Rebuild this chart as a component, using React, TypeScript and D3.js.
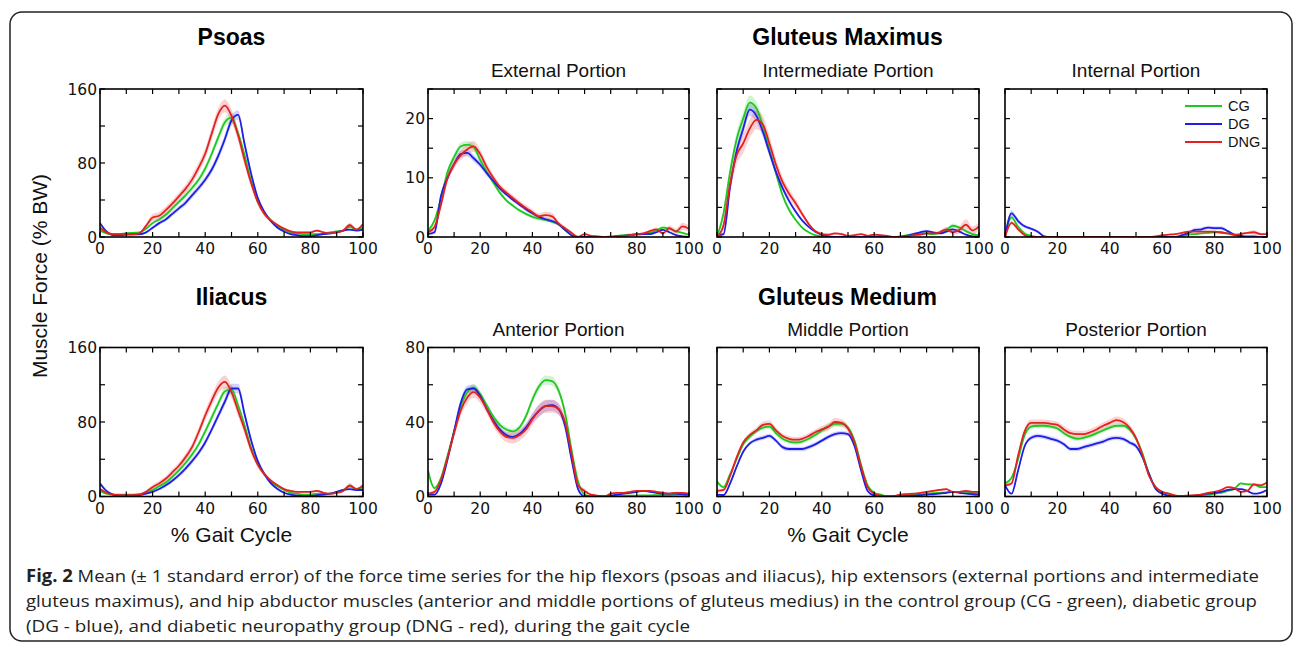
import React from 'react';
import * as d3 from 'd3';

// % gait cycle sample points
const gait = [0, 2.5, 5, 7.5, 10, 12.5, 15, 17.5, 20, 22.5,
  25, 27.5, 30, 32.5, 35, 37.5, 40, 42.5, 45, 47.5,
  50, 52.5, 55, 57.5, 60, 62.5, 65, 67.5, 70, 72.5,
  75, 77.5, 80, 82.5, 85, 87.5, 90, 92.5, 95, 97.5, 100];

// Psoas
const psoasCG = [7, 4, 3, 3, 4, 4.5, 5, 9, 15, 19, 24, 31, 38, 45, 53, 62, 74, 90, 108, 124,
  129, 112, 88, 60, 38, 26, 18, 12, 8, 5, 4, 3, 3, 3, 4, 5, 6, 7, 11, 8, 10];
const psoasDG = [15, 6, 2, 2, 2.5, 3, 3, 5, 10, 15, 19, 25, 31, 37, 45, 53, 62, 73, 88, 106,
  126, 132, 100, 68, 42, 27, 17, 10, 6, 3, 2, 1, 1, 2, 3, 4, 5, 7, 8, 7, 8];
const psoasDNG = [10, 5, 3, 3, 3.5, 3, 4, 12, 21, 23, 29, 36, 44, 52, 62, 75, 90, 112, 133, 142,
  131, 110, 83, 58, 38, 25, 18, 13, 9, 6, 5, 5, 5, 7, 5, 4, 5, 7, 13, 8, 14];
const psoasCGse = [1.5, 1, 0.8, 0.8, 0.8, 0.8, 1, 1.2, 1.5, 2, 2, 2.5, 2.5, 3, 3, 3.5, 4, 4, 4.5, 5,
  5, 4.5, 4, 3, 2.5, 2, 1.5, 1, 1, 0.8, 0.8, 0.8, 0.8, 0.8, 0.8, 0.8, 1, 1, 1.5, 1.5, 1.5];
const psoasDGse = [2, 1, 0.8, 0.8, 0.8, 0.8, 0.8, 1, 1.5, 2, 2, 2.5, 2.5, 3, 3, 3.5, 3.5, 4, 4.5, 5,
  5.5, 5, 4.5, 4, 3, 2, 1.5, 1, 0.8, 0.8, 0.8, 0.8, 0.8, 0.8, 0.8, 0.8, 0.8, 1, 1, 1, 1];
const psoasDNGse = [1.5, 1, 0.8, 0.8, 0.8, 0.8, 1, 2.5, 4, 4, 4, 4, 4, 4.5, 5, 5.5, 6, 6.5, 7, 7,
  7, 6.5, 6, 5, 4, 3, 2, 1.5, 1, 1, 0.8, 0.8, 1, 1, 0.8, 0.8, 1, 1.2, 2.5, 1.5, 2];

// Iliacus
const iliacusCG = [6, 3, 2, 2, 2, 2, 2.5, 4, 7, 11, 15, 21, 28, 36, 45, 56, 70, 85, 100, 113,
  115, 98, 76, 52, 35, 24, 16, 11, 7, 4, 3, 2, 2, 3, 3, 3, 5, 7, 11, 8, 10];
const iliacusDG = [14, 6, 2, 1, 1, 1, 1.5, 3, 5, 8, 12, 17, 23, 30, 38, 47, 58, 72, 87, 102,
  116, 116, 88, 60, 38, 24, 14, 8, 4, 2, 1, 0.5, 0.5, 1.5, 2, 3, 5, 7, 8, 7, 7];
const iliacusDNG = [8, 4, 2, 1.5, 1.5, 1.5, 2, 5, 10, 14, 19, 26, 33, 42, 53, 69, 87, 103, 117, 123,
  112, 92, 72, 50, 34, 24, 17, 12, 8, 6, 5, 5, 5, 6, 4, 3, 4, 6, 12, 8, 12];
const iliacusCGse = [1.5, 1, 0.8, 0.8, 0.8, 0.8, 0.8, 1, 1.5, 1.5, 2, 2, 2.5, 2.5, 3, 3, 3.5, 4, 4, 4.5,
  4.5, 4, 3.5, 3, 2.5, 2, 1.5, 1, 0.8, 0.8, 0.8, 0.8, 0.8, 0.8, 0.8, 0.8, 1, 1, 1.5, 1.5, 1.5];
const iliacusDGse = [2, 1, 0.8, 0.8, 0.8, 0.8, 0.8, 0.8, 1, 1.5, 2, 2, 2.5, 2.5, 3, 3, 3.5, 3.5, 4, 4.5,
  5, 5, 4.5, 3.5, 2.5, 2, 1.5, 1, 0.8, 0.8, 0.8, 0.8, 0.8, 0.8, 0.8, 0.8, 0.8, 1, 1, 1, 1];
const iliacusDNGse = [1.5, 1, 0.8, 0.8, 0.8, 0.8, 1, 1.5, 2.5, 3, 3, 3.5, 3.5, 4, 4.5, 5, 5.5, 6, 6.5, 7,
  6.5, 6, 5.5, 4.5, 3.5, 2.5, 2, 1.5, 1, 1, 0.8, 0.8, 1, 1, 0.8, 0.8, 1, 1.2, 2.5, 1.5, 2];

// Gluteus maximus - external portion
const extCG = [1, 2.8, 6.5, 11, 13.5, 15.3, 15.6, 15.2, 13, 11, 9.2, 7.5, 6.2, 5.3, 4.5, 3.9, 3.4, 3.1, 2.9, 2.6,
  2.1, 1.2, 0.3, 0, 0, 0, 0, 0, 0.1, 0.2, 0.3, 0.4, 0.4, 0.5, 0.7, 1.1, 1.6, 1.4, 1, 0.7, 0.4];
const extDG = [0.5, 0.8, 7, 10, 12.3, 14, 14.2, 13.3, 12.2, 10.8, 9.5, 8.2, 7.2, 6.3, 5.5, 4.7, 4, 3.4, 3, 2.7,
  2.2, 1.2, 0.3, 0, 0, 0, 0, 0, 0, 0.1, 0.2, 0.3, 0.5, 0.5, 0.5, 0.8, 1.2, 0.8, 0.3, 0.1, 0];
const extDNG = [0.8, 1.7, 5.5, 10, 12.3, 13.8, 14.8, 15.3, 14, 11.8, 10, 8.5, 7.5, 6.6, 5.7, 4.9, 4.2, 3.5, 3.7, 3.5,
  2.3, 1.5, 0.7, 0, 0.5, 0.2, 0.1, 0, 0, 0.1, 0.2, 0.3, 0.5, 0.6, 1, 1.3, 0.6, 1.5, 0.9, 1.8, 1.4];
const extCGse = [0.3, 0.4, 0.5, 0.6, 0.6, 0.6, 0.6, 0.6, 0.5, 0.5, 0.4, 0.4, 0.3, 0.3, 0.3, 0.3, 0.3, 0.3, 0.3, 0.3,
  0.2, 0.2, 0.1, 0.1, 0.1, 0.1, 0.1, 0.1, 0.1, 0.1, 0.1, 0.1, 0.1, 0.1, 0.15, 0.2, 0.25, 0.2, 0.15, 0.1, 0.1];
const extDGse = [0.3, 0.3, 0.5, 0.6, 0.6, 0.6, 0.6, 0.6, 0.5, 0.5, 0.4, 0.4, 0.3, 0.3, 0.3, 0.3, 0.3, 0.3, 0.3, 0.3,
  0.2, 0.2, 0.1, 0.1, 0.1, 0.1, 0.1, 0.1, 0.1, 0.1, 0.1, 0.1, 0.1, 0.1, 0.1, 0.1, 0.15, 0.1, 0.1, 0.1, 0.1];
const extDNGse = [0.3, 0.5, 0.6, 0.7, 0.8, 0.8, 0.9, 0.9, 0.8, 0.7, 0.6, 0.5, 0.5, 0.5, 0.5, 0.5, 0.5, 0.5, 0.6, 0.6,
  0.4, 0.3, 0.2, 0.1, 0.2, 0.1, 0.1, 0.1, 0.1, 0.1, 0.1, 0.1, 0.15, 0.2, 0.25, 0.3, 0.3, 0.5, 0.5, 0.6, 0.5];

// Gluteus maximus - intermediate portion
const intmCG = [0, 4, 11, 16.5, 20, 22.7, 21.8, 18.8, 14.8, 10.8, 7.1, 4.6, 2.9, 1.6, 0.8, 0.3, 0.1, 0, 0, 0,
  0, 0, 0, 0, 0, 0, 0, 0, 0.1, 0.3, 0.5, 0.6, 0.6, 0.5, 0.7, 1.2, 1.9, 1.6, 1, 0.5, 0.3];
const intmDG = [0.3, 0.5, 8.5, 14.5, 18.3, 21.5, 20.5, 17.8, 14.3, 11, 8.3, 6.1, 4.3, 2.8, 1.7, 0.9, 0.4, 0.1, 0, 0,
  0, 0, 0, 0, 0, 0, 0, 0, 0, 0.2, 0.5, 0.8, 1, 0.8, 0.6, 0.9, 1.3, 0.9, 0.4, 0.1, 0];
const intmDNG = [0, 2, 9, 13.8, 15.8, 18.3, 19.8, 19, 15.8, 12.2, 9.3, 7.3, 5.7, 3.9, 2.2, 1, 0.5, 0.4, 0.6, 0.5,
  0.2, 0.3, 0.5, 0.2, 0.4, 0.3, 0.2, 0, 0, 0.1, 0.3, 0.4, 0.6, 0.6, 0.8, 1.3, 0.8, 1.2, 2.1, 1.1, 1.8];
const intmCGse = [0.2, 0.8, 1, 1.2, 1.2, 1.2, 1.1, 1, 0.8, 0.6, 0.5, 0.4, 0.3, 0.2, 0.1, 0.1, 0.1, 0.1, 0.1, 0.1,
  0.1, 0.1, 0.1, 0.1, 0.1, 0.1, 0.1, 0.1, 0.1, 0.1, 0.1, 0.1, 0.1, 0.1, 0.2, 0.3, 0.4, 0.3, 0.2, 0.1, 0.1];
const intmDGse = [0.2, 0.3, 0.8, 0.9, 1, 1, 1, 0.9, 0.7, 0.6, 0.5, 0.4, 0.3, 0.2, 0.1, 0.1, 0.1, 0.1, 0.1, 0.1,
  0.1, 0.1, 0.1, 0.1, 0.1, 0.1, 0.1, 0.1, 0.1, 0.1, 0.1, 0.15, 0.2, 0.15, 0.1, 0.15, 0.2, 0.15, 0.1, 0.1, 0.1];
const intmDNGse = [0.2, 0.8, 1.5, 1.5, 1.6, 1.6, 1.6, 1.5, 1.3, 1.1, 0.9, 0.8, 0.7, 0.5, 0.3, 0.2, 0.2, 0.2, 0.2, 0.2,
  0.1, 0.1, 0.1, 0.1, 0.1, 0.1, 0.1, 0.1, 0.1, 0.1, 0.1, 0.1, 0.15, 0.2, 0.3, 0.4, 0.4, 0.6, 0.9, 0.7, 0.7];

// Gluteus maximus - internal portion
const inteCG = [0, 3.3, 1.7, 0.6, 0.2, 0, 0, 0, 0, 0, 0, 0, 0, 0, 0, 0, 0, 0, 0, 0,
  0, 0, 0, 0, 0, 0, 0, 0.1, 0.4, 0.5, 0.6, 0.7, 0.8, 0.7, 0.6, 0.3, 0.1, 0, 0, 0, 0];
const inteDG = [0, 4, 2.7, 1.8, 1.4, 0.9, 0.1, 0, 0, 0, 0, 0, 0, 0, 0, 0, 0, 0, 0, 0,
  0, 0, 0, 0, 0, 0, 0, 0.3, 0.7, 1.2, 1.3, 1.6, 1.5, 1.5, 1, 0.4, 0.2, 0.1, 0.1, 0, 0];
const inteDNG = [0, 2.4, 1.3, 0.3, 0, 0, 0, 0, 0, 0, 0, 0, 0, 0, 0, 0, 0, 0, 0, 0,
  0, 0, 0, 0.1, 0.3, 0.4, 0.5, 0.7, 0.9, 0.9, 0.9, 0.9, 0.9, 0.8, 0.6, 0.4, 0.5, 0.7, 0.8, 0.5, 0.5];
const inteCGse = [0, 0.3, 0.25, 0.1, 0.05, 0, 0, 0, 0, 0, 0, 0, 0, 0, 0, 0, 0, 0, 0, 0,
  0, 0, 0, 0, 0, 0, 0, 0.05, 0.1, 0.1, 0.1, 0.1, 0.1, 0.1, 0.1, 0.1, 0.05, 0, 0, 0, 0];
const inteDGse = [0, 0.5, 0.4, 0.3, 0.25, 0.2, 0.05, 0, 0, 0, 0, 0, 0, 0, 0, 0, 0, 0, 0, 0,
  0, 0, 0, 0, 0, 0, 0, 0.1, 0.2, 0.3, 0.3, 0.3, 0.3, 0.3, 0.2, 0.1, 0.05, 0.05, 0.05, 0, 0];
const inteDNGse = [0, 0.3, 0.25, 0.1, 0, 0, 0, 0, 0, 0, 0, 0, 0, 0, 0, 0, 0, 0, 0, 0,
  0, 0, 0, 0.05, 0.1, 0.1, 0.1, 0.1, 0.15, 0.15, 0.15, 0.15, 0.15, 0.15, 0.1, 0.1, 0.15, 0.2, 0.4, 0.2, 0.2];

// Gluteus medius - anterior portion
const antCG = [14, 4.5, 10, 22, 35, 48, 56, 58.5, 55, 49, 43, 38.5, 36, 35, 37, 43, 52, 59, 62.5, 62,
  57, 45, 25, 8, 1, 0, 0, 0, 0.3, 0.4, 0.4, 0.5, 0.5, 0.6, 0.6, 0.7, 0.8, 0.8, 0.9, 1, 1.2];
const antDG = [1, 1, 7, 20, 35, 50, 57.5, 58, 54, 47, 41, 36, 33, 32, 33.5, 37, 42, 46, 48.5, 49,
  47, 38, 20, 4, 0, 0, 0, 0, 0.5, 1, 1.5, 2, 2.5, 3, 2.5, 2, 1.5, 1.5, 1.5, 1.2, 1];
const antDNG = [1.5, 2.5, 9, 21, 34, 46, 53, 56, 53, 47, 40, 35, 32, 31.5, 33, 36, 41.5, 46, 48.5, 48.5,
  47, 40, 23, 6, 3, 1, 0.5, 0, 1.5, 2, 2, 2.5, 3, 3, 3, 2.5, 2, 1.5, 2, 2, 1.5];
const antCGse = [1, 1, 1, 1.2, 1.5, 1.8, 2, 2, 1.8, 1.5, 1.5, 1.5, 1.5, 1.5, 1.5, 1.8, 2, 2.2, 2.5, 2.5,
  2.2, 2, 1.5, 1, 0.5, 0.3, 0.3, 0.3, 0.3, 0.3, 0.3, 0.3, 0.3, 0.3, 0.3, 0.3, 0.3, 0.3, 0.3, 0.3, 0.3];
const antDGse = [0.5, 0.5, 1, 1.5, 1.8, 2, 2, 2, 1.8, 1.5, 1.5, 1.5, 1.5, 1.5, 1.8, 2, 2.5, 3, 3, 3,
  2.8, 2.5, 1.8, 1, 0.5, 0.3, 0.3, 0.3, 0.3, 0.3, 0.3, 0.3, 0.4, 0.4, 0.4, 0.3, 0.3, 0.3, 0.3, 0.3, 0.3];
const antDNGse = [0.8, 1, 1.5, 2, 2.5, 3, 3, 3, 2.8, 2.5, 2.5, 2.5, 2.8, 3, 3, 3, 3.2, 3.5, 3.5, 3.5,
  3.2, 3, 2.5, 1.5, 1.2, 0.5, 0.3, 0.3, 0.5, 0.5, 0.5, 0.5, 0.5, 0.5, 0.5, 0.5, 0.5, 0.5, 0.5, 0.5, 0.5];

// Gluteus medius - middle portion
const midCG = [8, 5, 12, 20, 28, 32, 35, 37, 37.5, 34, 31, 29.5, 29, 29.5, 31, 33, 35.5, 37.5, 39, 39,
  37, 30, 17, 6, 2, 1, 0, 0, 0.3, 0.5, 0.8, 1.2, 1.5, 1.8, 2, 2.2, 2.5, 2.5, 2.5, 2, 1.5];
const midDG = [1, 0.8, 7, 16, 24, 28.5, 30.5, 31.5, 32.5, 30, 26.5, 25.5, 25.5, 25.5, 26.5, 28, 30, 32, 33.5, 34,
  33.5, 27, 14, 3, 0.5, 0, 0, 0, 0, 0.2, 0.5, 0.7, 1, 1.2, 1.5, 2, 2.5, 2, 1.5, 1.2, 1];
const midDNG = [3, 3.5, 11, 21, 29, 33, 35.5, 38.5, 39, 35.5, 32.5, 31, 30.5, 31, 32.5, 34.5, 36, 37.5, 40, 39.5,
  36.5, 29, 16, 5, 1.5, 0.5, 0, 0.3, 1, 1.3, 1.5, 2, 2.5, 3, 3.5, 4, 2.5, 2.5, 3, 2.5, 2.5];
const midCGse = [1, 0.8, 1, 1, 1.2, 1.2, 1.2, 1.2, 1.2, 1.2, 1.2, 1.2, 1.2, 1.2, 1.2, 1.2, 1.3, 1.5, 1.5, 1.5,
  1.3, 1.2, 1, 0.6, 0.3, 0.2, 0.2, 0.2, 0.2, 0.2, 0.2, 0.2, 0.2, 0.3, 0.3, 0.3, 0.3, 0.3, 0.3, 0.3, 0.3];
const midDGse = [0.5, 0.5, 0.8, 1, 1, 1, 1.2, 1.2, 1.2, 1.2, 1.2, 1.2, 1.2, 1.2, 1.2, 1.2, 1.2, 1.2, 1.2, 1.2,
  1.2, 1, 0.8, 0.5, 0.2, 0.2, 0.2, 0.2, 0.2, 0.2, 0.2, 0.2, 0.2, 0.2, 0.2, 0.2, 0.2, 0.2, 0.2, 0.2, 0.2];
const midDNGse = [0.8, 0.8, 1, 1.2, 1.3, 1.4, 1.5, 1.8, 1.8, 1.6, 1.5, 1.5, 1.5, 1.5, 1.5, 1.6, 1.8, 2, 2.2, 2,
  1.8, 1.5, 1.2, 0.6, 0.3, 0.2, 0.2, 0.2, 0.3, 0.3, 0.3, 0.3, 0.3, 0.4, 0.5, 0.5, 0.4, 0.5, 0.6, 0.5, 0.5];

// Gluteus medius - posterior portion
const postCG = [7, 10, 20, 33, 37.5, 38, 38, 37.5, 36.5, 34, 32, 31, 31.5, 32.5, 34, 35.5, 37, 38, 38, 36,
  31, 23, 12, 5, 2.5, 1.5, 0.5, 0, 0, 0.3, 0.8, 1, 1.5, 2, 3, 4, 7, 6.5, 6.5, 5, 5];
const postDG = [6, 1.5, 14, 27, 31.5, 32.5, 32, 31, 30, 28, 25.5, 25.5, 26.5, 27.5, 28.5, 29.5, 31, 31.5, 31, 29,
  27, 21, 12, 4, 1.5, 0.5, 0, 0, 0, 0.5, 1, 1.5, 2, 2.5, 3.5, 4, 4, 3, 1.5, 2, 3.5];
const postDNG = [6, 7, 22, 35, 39.5, 39.5, 39.5, 39, 38.5, 36, 34, 33.5, 33.5, 34.5, 36, 38, 39.5, 41, 40, 37,
  31.5, 22, 11, 5, 2.5, 1.5, 0.5, 0.3, 0.5, 0.7, 1, 2, 2.5, 3.5, 5, 4.5, 2.5, 3, 6.5, 6, 7.5];
const postCGse = [1, 1, 1, 1.2, 1.2, 1.2, 1.2, 1.2, 1.2, 1.2, 1.2, 1.2, 1.2, 1.2, 1.2, 1.2, 1.2, 1.2, 1.2, 1.2,
  1.2, 1, 0.8, 0.5, 0.3, 0.2, 0.2, 0.2, 0.2, 0.2, 0.2, 0.2, 0.3, 0.3, 0.4, 0.4, 0.5, 0.5, 0.5, 0.5, 0.5];
const postDGse = [0.8, 0.5, 1, 1.2, 1.2, 1.2, 1.2, 1.2, 1.2, 1.2, 1.2, 1.2, 1.2, 1.2, 1.2, 1.2, 1.2, 1.2, 1.2, 1.2,
  1.2, 1, 0.8, 0.5, 0.3, 0.2, 0.2, 0.2, 0.2, 0.2, 0.2, 0.2, 0.3, 0.3, 0.3, 0.4, 0.4, 0.3, 0.3, 0.3, 0.3];
const postDNGse = [1, 1, 1.5, 1.8, 1.8, 1.8, 1.8, 1.8, 1.8, 1.8, 1.8, 1.8, 1.8, 1.8, 1.8, 1.8, 2, 2, 2, 1.8,
  1.5, 1.2, 0.8, 0.5, 0.3, 0.2, 0.2, 0.2, 0.3, 0.3, 0.3, 0.4, 0.4, 0.5, 0.5, 0.5, 0.5, 0.5, 0.8, 0.8, 0.8];

const groups = ['CG', 'DG', 'DNG'];
const groupColors = ['#1ec81e', '#1e1ee6', '#e42020'];

const xTickLabels = [0, 20, 40, 60, 80, 100];
const hipFlexorTicks = [0, 80, 160];
const gmaxTicks = [0, 10, 20];
const gmedTicks = [0, 40, 80];

const captionLines = [
  ' Mean (\u00b1 1 standard error) of the force time series for the hip flexors (psoas and iliacus), hip extensors (external portions and intermediate',
  'gluteus maximus), and hip abductor muscles (anterior and middle portions of gluteus medius) in the control group (CG - green), diabetic group',
  '(DG - blue), and diabetic neuropathy group (DNG - red), during the gait cycle',
];

// layout
const cols = [[100, 363], [428, 689], [717, 979], [1005, 1267]];
const rows = [[89, 237], [347.5, 496.5]];

const panels = [
  { id: 'psoas', c: 0, r: 0, ymax: 160, step: 40, labels: hipFlexorTicks, title: 'Psoas', bold: true,
    s: [[psoasCG, psoasCGse], [psoasDG, psoasDGse], [psoasDNG, psoasDNGse]] },
  { id: 'ext', c: 1, r: 0, ymax: 25, step: 5, labels: gmaxTicks, title: 'External Portion',
    s: [[extCG, extCGse], [extDG, extDGse], [extDNG, extDNGse]] },
  { id: 'intm', c: 2, r: 0, ymax: 25, step: 5, labels: null, title: 'Intermediate Portion',
    s: [[intmCG, intmCGse], [intmDG, intmDGse], [intmDNG, intmDNGse]] },
  { id: 'inte', c: 3, r: 0, ymax: 25, step: 5, labels: null, title: 'Internal Portion', legend: true,
    s: [[inteCG, inteCGse], [inteDG, inteDGse], [inteDNG, inteDNGse]] },
  { id: 'iliacus', c: 0, r: 1, ymax: 160, step: 40, labels: hipFlexorTicks, title: 'Iliacus', bold: true,
    s: [[iliacusCG, iliacusCGse], [iliacusDG, iliacusDGse], [iliacusDNG, iliacusDNGse]] },
  { id: 'ant', c: 1, r: 1, ymax: 80, step: 20, labels: gmedTicks, title: 'Anterior Portion',
    s: [[antCG, antCGse], [antDG, antDGse], [antDNG, antDNGse]] },
  { id: 'mid', c: 2, r: 1, ymax: 80, step: 20, labels: null, title: 'Middle Portion',
    s: [[midCG, midCGse], [midDG, midDGse], [midDNG, midDNGse]] },
  { id: 'post', c: 3, r: 1, ymax: 80, step: 20, labels: null, title: 'Posterior Portion',
    s: [[postCG, postCGse], [postDG, postDGse], [postDNG, postDNGse]] },
];

const tickFont = 'DejaVu Sans';
const labelFont = 'Liberation Sans, Arial, sans-serif';

function Panel({ p }: { p: any }) {
  const [x0, x1] = cols[p.c];
  const [y0, y1] = rows[p.r];
  const x = d3.scaleLinear().domain([0, 100]).range([x0, x1]);
  const y = d3.scaleLinear().domain([0, p.ymax]).range([y1, y0]);
  const line = d3.line<number>().x((_, i) => x(gait[i])).y(d => y(d)).curve(d3.curveMonotoneX);
  const band = (m: number[], se: number[]) =>
    d3.area<number>()
      .x((_, i) => x(gait[i]))
      .y0((d, i) => y(Math.max(0, d - se[i])))
      .y1((d, i) => y(d + se[i]))
      .curve(d3.curveMonotoneX)(m);
  const xt = d3.range(0, 101, 10);
  const yt = d3.range(0, p.ymax + 0.001, p.step);
  const tl = 5;
  const clip = `clip-${p.id}`;
  return (
    <g>
      <defs>
        <clipPath id={clip}>
          <rect x={x0} y={y0} width={x1 - x0} height={y1 - y0} />
        </clipPath>
      </defs>
      <g clipPath={`url(#${clip})`}>
        {p.s.map(([m, se]: number[][], k: number) => (
          <path key={'b' + k} d={band(m, se) || ''} fill={groupColors[k]} fillOpacity={0.2} stroke="none" />
        ))}
        {p.s.map(([m]: number[][], k: number) => (
          <path key={'l' + k} d={line(m) || ''} fill="none" stroke={groupColors[k]} strokeWidth={1.8} />
        ))}
      </g>
      {/* inward ticks on all sides */}
      {xt.map(t => (
        <g key={'xt' + t}>
          <line x1={x(t)} x2={x(t)} y1={y1} y2={y1 - tl} stroke="#000" strokeWidth={1.2} />
          <line x1={x(t)} x2={x(t)} y1={y0} y2={y0 + tl} stroke="#000" strokeWidth={1.2} />
        </g>
      ))}
      {yt.map(t => (
        <g key={'yt' + t}>
          <line x1={x0} x2={x0 + tl} y1={y(t)} y2={y(t)} stroke="#000" strokeWidth={1.2} />
          <line x1={x1} x2={x1 - tl} y1={y(t)} y2={y(t)} stroke="#000" strokeWidth={1.2} />
        </g>
      ))}
      <rect x={x0} y={y0} width={x1 - x0} height={y1 - y0} fill="none" stroke="#000" strokeWidth={1.6} />
      {xTickLabels.map(t => (
        <text key={'xl' + t} x={x(t)} y={y1 + 17} textAnchor="middle" fontFamily={tickFont} fontSize={15.5} fill="#111">{t}</text>
      ))}
      {p.labels && p.labels.map((t: number) => (
        <text key={'yl' + t} x={x0 - 3} y={y(t)} dy="0.36em" textAnchor="end" fontFamily={tickFont} fontSize={15.5} fill="#111">{t}</text>
      ))}
      {!p.bold && (
        <text x={(x0 + x1) / 2} y={y0 - 12} textAnchor="middle" fontFamily={labelFont} fontSize={19} fill="#111">{p.title}</text>
      )}
      {p.legend && groups.map((g, k) => (
        <g key={g}>
          <line x1={x1 - 82} x2={x1 - 45} y1={y0 + 17 + k * 18} y2={y0 + 17 + k * 18} stroke={groupColors[k]} strokeWidth={2} />
          <text x={x1 - 39} y={y0 + 17 + k * 18} dy="0.36em" fontFamily={labelFont} fontSize={14.5} fill="#111">{g}</text>
        </g>
      ))}
    </g>
  );
}

export default function App() {
  const c0 = (cols[0][0] + cols[0][1]) / 2;
  const cG = (cols[1][0] + cols[3][1]) / 2;
  return (
    <svg width={1295} height={645} style={{ position: 'absolute', left: 0, top: 0, background: '#fff' }}>
      <rect x={10} y={12} width={1282} height={629} rx={12} fill="#fff" stroke="#222" strokeWidth={1.5} />
      <text x={c0} y={45} textAnchor="middle" fontFamily={labelFont} fontWeight="bold" fontSize={23}>Psoas</text>
      <text x={cG} y={45} textAnchor="middle" fontFamily={labelFont} fontWeight="bold" fontSize={23}>Gluteus Maximus</text>
      <text x={c0} y={305} textAnchor="middle" fontFamily={labelFont} fontWeight="bold" fontSize={23}>Iliacus</text>
      <text x={cG} y={305} textAnchor="middle" fontFamily={labelFont} fontWeight="bold" fontSize={23}>Gluteus Medium</text>
      {panels.map(p => <Panel key={p.id} p={p} />)}
      <text transform="translate(47,276) rotate(-90)" textAnchor="middle" fontFamily={labelFont} fontSize={21} fill="#111">Muscle Force (% BW)</text>
      <text x={c0} y={542} textAnchor="middle" fontFamily={labelFont} fontSize={21} fill="#111">% Gait Cycle</text>
      <text x={(cols[2][0] + cols[2][1]) / 2} y={542} textAnchor="middle" fontFamily={labelFont} fontSize={21} fill="#111">% Gait Cycle</text>
      <g fontFamily="Open Sans, sans-serif" fontSize={17} fill="#222">
        <text x={26} y={582} textLength={1233} lengthAdjust="spacingAndGlyphs">
          <tspan fontWeight="bold">Fig. 2</tspan>{captionLines[0]}
        </text>
        <text x={26} y={607} textLength={1231} lengthAdjust="spacingAndGlyphs">{captionLines[1]}</text>
        <text x={26} y={632} textLength={664} lengthAdjust="spacingAndGlyphs">{captionLines[2]}</text>
      </g>
    </svg>
  );
}
